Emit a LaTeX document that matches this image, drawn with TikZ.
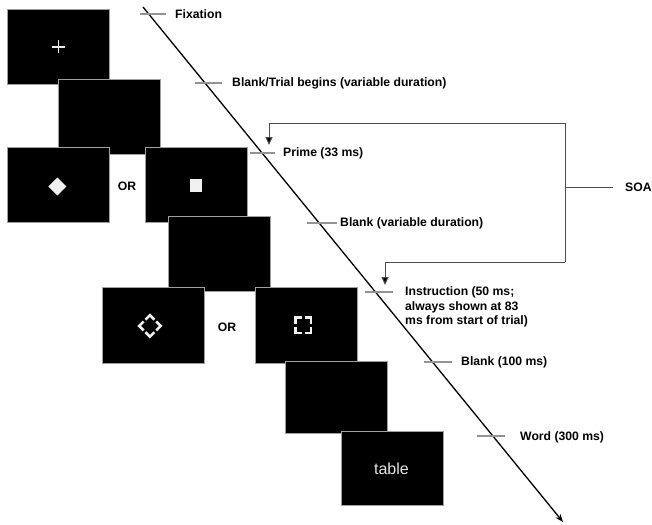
\documentclass[tikz,border=0pt]{standalone}
\usepackage{fontspec}
\setmainfont{Liberation Sans}
\usetikzlibrary{arrows.meta}
\begin{document}
\begin{tikzpicture}[x=1pt,y=-1pt,
  screen/.style={draw=gray!75, fill=black, line width=0.9pt, minimum width=102pt, minimum height=75pt, inner sep=0pt, anchor=north west},
  lbl/.style={font=\bfseries\fontsize{12.2}{14.5}\selectfont, anchor=west, inner sep=0pt, text=black},
  tickmark/.style={draw=gray!85, line width=1.1pt},
  bracket/.style={draw=black!70, line width=1pt},
  stim/.style={fill=white!88!gray, draw=none},
  corner/.style={draw=white!88!gray, line width=2.6pt, line cap=butt, line join=miter}]
\useasboundingbox (0,0) rectangle (652,524);
% screens
\node[screen] (fix) at (7,9) {};
\node[screen] (blankA) at (58,79) {};
\node[screen] (primeL) at (7,147) {};
\node[screen] (primeR) at (145,147) {};
\node[screen] (blankB) at (168,216) {};
\node[screen, minimum height=76pt] (instrL) at (102,287) {};
\node[screen, minimum height=76pt] (instrR) at (255,287) {};
\node[screen, minimum height=72pt] (blankC) at (285,361) {};
\node[screen, minimum height=74pt] (word) at (341,431) {};
% stimuli
\draw[white!85!gray, line width=1.4pt] ([xshift=-6.5pt]fix.center) -- ([xshift=6.5pt]fix.center)
  ([yshift=-6.5pt]fix.center) -- ([yshift=6.5pt]fix.center);
\fill[stim] ([xshift=-1pt,yshift=-1.5pt]primeL.center) ++(-9,0) -- ++(9,-9) -- ++(9,9) -- ++(-9,9) -- cycle;
\fill[stim] ([xshift=-0.5pt,yshift=-0.5pt]primeR.center) ++(-6,-6.5) rectangle ++(12,13);
% diamond mask
\begin{scope}[shift={([xshift=-3.5pt,yshift=-0.5pt]instrL.center)}, rotate=45]
  \foreach \r in {0,90,180,270}{
    \draw[corner, rotate=\r] (-7.6,-1.3) -- (-7.6,-7.6) -- (-1.3,-7.6);
  }
\end{scope}
% square mask
\begin{scope}[shift={([xshift=-3pt]instrR.center)}]
  \foreach \r in {0,90,180,270}{
    \draw[corner, rotate=\r] (-7.7,-1.6) -- (-7.7,-7.7) -- (-1.6,-7.7);
  }
\end{scope}
\node[text=white!80!gray, font=\fontsize{16}{18}\selectfont] (wordtxt) at ([xshift=-1pt]word.center) {table};
\node[font=\bfseries\fontsize{12.2}{14}\selectfont, text=black] (or1) at (127,186) {OR};
\node[font=\bfseries\fontsize{12.2}{14}\selectfont, text=black] (or2) at (227,327) {OR};
% timeline
\coordinate (tstart) at (143,7);
\coordinate (tend) at (563,522);
\draw[line width=1.3pt, -{Stealth[length=8pt,width=6pt]}] (tstart) -- (tend);
% ticks and labels
\draw[tickmark] (140,14) -- (166,14);
\node[lbl] (l1) at (175,14) {Fixation};
\draw[tickmark] (195,83) -- (222,83);
\node[lbl] (l2) at (232,83) {Blank/Trial begins (variable duration)};
\draw[tickmark] (250,153) -- (275,153);
\node[lbl] (l3) at (283,153) {Prime (33 ms)};
\draw[tickmark] (307,223) -- (337,223);
\node[lbl] (l4) at (340,223) {Blank (variable duration)};
\draw[tickmark] (365,292) -- (393,292);
\node[lbl, align=left] (l5) at (405,307) {Instruction (50 ms;\\always shown at 83\\ms from start of trial)};
\draw[tickmark] (424,362) -- (452,362);
\node[lbl] (l6) at (461,362) {Blank (100 ms)};
\draw[tickmark] (477,436) -- (505,436);
\node[lbl] (l7) at (520,437) {Word (300 ms)};
% SOA bracket
\coordinate (a1) at (269,145);
\coordinate (a2) at (385,285);
\coordinate (c1) at (565,123);
\coordinate (c2) at (565,262);
\coordinate (cm) at (565,187);
\node[lbl] (soa) at (625,187) {SOA};
\draw[bracket] (c2) -- (c1) -- (269,123);
\draw[bracket] (c2) -- (385,262);
\draw[bracket, -{Triangle[length=8pt,width=7pt,fill=black]}] (269,123) -- (a1);
\draw[bracket, -{Triangle[length=8pt,width=7pt,fill=black]}] (385,262) -- (a2);
\draw[bracket] (cm) -- (613,187);
\end{tikzpicture}
\end{document}
